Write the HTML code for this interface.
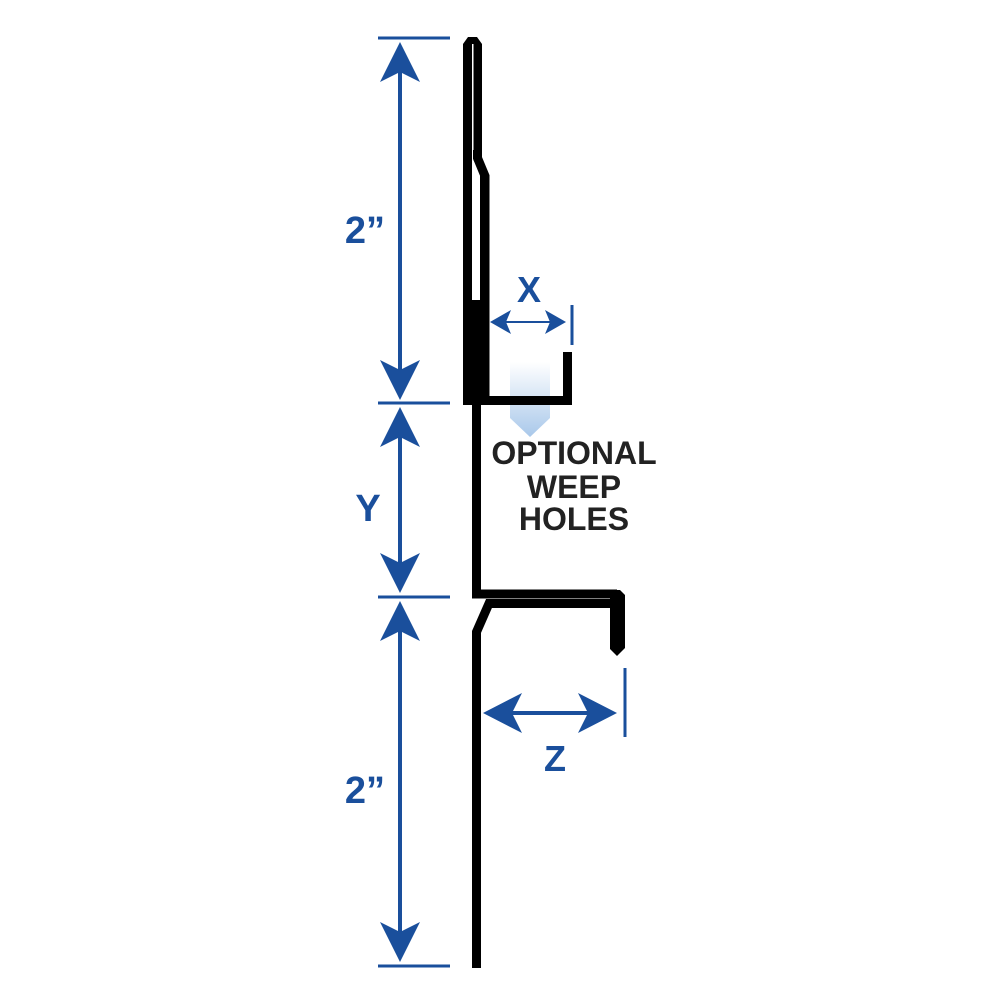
<!DOCTYPE html>
<html><head><style>body{margin:0;background:#fff}svg{display:block}</style></head><body>
<svg width="1000" height="1000" viewBox="0 0 1000 1000" xmlns="http://www.w3.org/2000/svg">
<defs>
<linearGradient id="g" x1="0" y1="0" x2="0" y2="1"><stop offset="0" stop-color="#fff"/><stop offset="1" stop-color="#a9c8ea"/></linearGradient>
</defs>
<path d="M510,362 H550 V418 L530,437 L510,418Z" fill="url(#g)"/>
<g stroke="#1a4f9c" stroke-width="3" fill="none">
<line x1="378" y1="38" x2="450" y2="38"/><line x1="378" y1="403" x2="450" y2="403"/>
<line x1="378" y1="597" x2="450" y2="597"/><line x1="378" y1="966" x2="450" y2="966"/>
<line x1="400" y1="60" x2="400" y2="385" stroke-width="4"/>
<line x1="400" y1="420" x2="400" y2="580" stroke-width="4"/>
<line x1="400" y1="615" x2="400" y2="948" stroke-width="4"/>
<line x1="500" y1="322" x2="556" y2="322" stroke-width="2"/>
<line x1="572" y1="305" x2="572" y2="345"/>
<line x1="500" y1="713" x2="600" y2="713" stroke-width="4"/>
<line x1="625" y1="668" x2="625" y2="737"/>
</g>
<g fill="#1a4f9c">
<path d="M400,42 L380,82 L400,72 L420,82Z"/>
<path d="M400,400 L380,360 L400,370 L420,360Z"/>
<path d="M400,407 L380,447 L400,437 L420,447Z"/>
<path d="M400,593 L380,553 L400,563 L420,553Z"/>
<path d="M400,601 L380,641 L400,631 L420,641Z"/>
<path d="M400,962 L380,922 L400,932 L420,922Z"/>
<path d="M490,322 L511,310 L506,322 L511,334Z"/>
<path d="M566,322 L545,310 L550,322 L545,334Z"/>
<path d="M483,713 L522,693 L512,713 L522,733Z"/>
<path d="M617,713 L578,693 L588,713 L578,733Z"/>
</g>
<g fill="#1a4f9c" font-family="Liberation Sans, sans-serif" font-weight="bold" font-size="38" text-anchor="middle">
<text x="365" y="243">2”</text><text x="368" y="521">Y</text><text x="365" y="803">2”</text>
<text x="529" y="302" font-size="36">X</text><text x="555" y="771" font-size="36">Z</text>
</g>
<g fill="#222" font-family="Liberation Sans, sans-serif" font-weight="bold" font-size="32" text-anchor="middle">
<text x="574" y="464">OPTIONAL</text><text x="574" y="498">WEEP</text><text x="574" y="530">HOLES</text>
</g>
<g fill="#000">
<path d="M463,44 L468,37 L477,37 L482,44 V405 H463Z"/>
<rect x="472" y="44" width="1.5" height="256" fill="#fff"/>
<path d="M473.5,160 L480,172 V300 H473.5Z" fill="#fff"/>
</g>
<g stroke="#000" stroke-width="9" fill="none" stroke-linejoin="miter">
<path d="M477.5,150 V158 L485,176 V400.5 H567.5 V352"/>
<path d="M476.5,405 V594 H617"/>
<path d="M615,603.5 H489 L476.5,632 V968"/>
</g>
<path d="M610,590 H620 L625,595 V648 L617,656 L610,649Z" fill="#000"/>
<rect x="472" y="300" width="9" height="105" fill="#000"/>
</svg>
</body></html>
